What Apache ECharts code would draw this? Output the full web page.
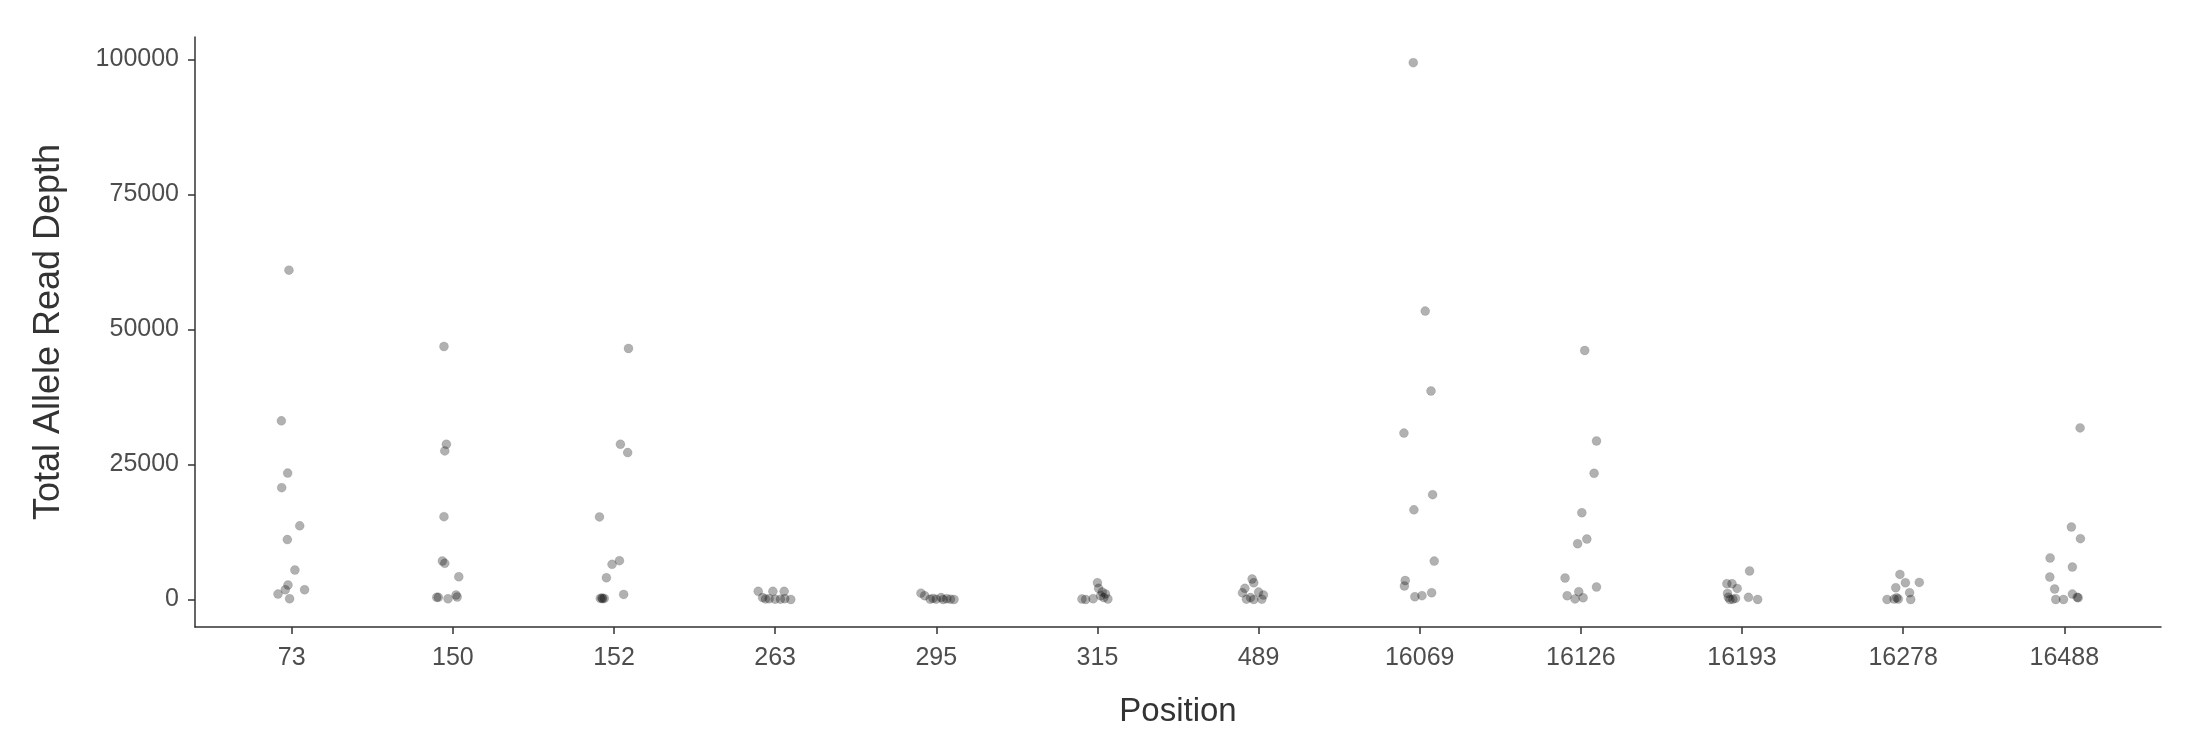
<!DOCTYPE html>
<html>
<head>
<meta charset="utf-8">
<script src="https://cdn.jsdelivr.net/npm/echarts@6/dist/echarts.min.js"></script>
<style>
html,body{margin:0;padding:0;background:#fff;}
#chart{width:2186px;height:749px;}
</style>
</head>
<body>
<div id="chart"></div>
<script>
// Category labels (positions) in display order
const positions = ['73','150','152','263','295','315','489','16069','16126','16193','16278','16488'];
const yTicks = [0, 25000, 50000, 75000, 100000];

// Total allele read depth per position
const depth73    = [60980, 33070, 23400, 20700, 13630, 11080, 5450, 2670, 1800, 1800, 1000, 130];
const depth150   = [46850, 28750, 27510, 15330, 7120, 6690, 4200, 820, 450, 390, 390, 130];
const depth152   = [46480, 28750, 27200, 15280, 7180, 6500, 4030, 940, 200, 200, 150, 250];
const depth263   = [1500, 340, 100, 1500, 50, 50, 1500, 140, 0, 140];
const depth295   = [1170, 690, 50, 50, 340, 0, 50, 0, 200, 140];
const depth315   = [3090, 2060, 1370, 340, 80, 80, 0, 140, 690, 1030];
const depth489   = [3780, 3090, 2060, 1370, 340, 50, 50, 0, 820, 1230];
const depth16069 = [99400, 53400, 38600, 30800, 19400, 16600, 7100, 3500, 2500, 1250, 700, 500];
const depth16126 = [46100, 29350, 23360, 16060, 11190, 10320, 3970, 2300, 690, 1430, 100, 320];
const depth16193 = [5270, 2900, 2900, 2050, 1120, 50, 0, 200, 390, 0, 400];
const depth16278 = [4640, 3100, 3160, 2170, 1250, 80, 80, 0, 0, 300];
const depth16488 = [31770, 13420, 11260, 7680, 6000, 4150, 1930, 1000, 320, 400, 0, 0];

// Horizontal jitter of each point (fraction of a category step)
const jitter73    = [-0.017, -0.064, -0.025, -0.062, 0.05, -0.027, 0.02, -0.023, 0.08, -0.04, -0.085, -0.013];
const jitter150   = [-0.055, -0.04, -0.05, -0.055, -0.065, -0.05, 0.037, 0.02, 0.027, -0.1, -0.09, -0.03];
const jitter152   = [0.09, 0.04, 0.085, -0.09, 0.034, -0.012, -0.047, 0.06, -0.085, -0.06, -0.07, -0.075];
const jitter263   = [-0.105, -0.078, -0.06, -0.014, 0, 0.033, 0.056, 0.06, 0.097, -0.037];
const jitter295   = [-0.095, -0.072, -0.038, 0, 0.03, 0.043, 0.088, 0.11, -0.02, 0.065];
const jitter315   = [0, 0.007, 0.03, 0.04, 0.065, -0.096, -0.073, -0.027, 0.02, 0.05];
const jitter489   = [-0.04, -0.03, -0.085, 0, -0.05, 0.02, -0.075, -0.03, 0.03, -0.1];
const jitter16069 = [-0.04, 0.034, 0.07, -0.098, 0.08, -0.036, 0.09, -0.09, -0.095, 0.074, 0.014, -0.03];
const jitter16126 = [0.024, 0.097, 0.082, 0.006, 0.037, -0.02, -0.098, 0.097, -0.085, -0.013, -0.036, 0.014];
const jitter16193 = [0.047, -0.094, -0.062, -0.03, -0.09, -0.057, -0.075, -0.04, 0.04, 0.097, -0.085];
const jitter16278 = [-0.02, 0.014, 0.1, -0.046, 0.04, -0.056, -0.03, -0.1, 0.047, -0.04];
const jitter16488 = [0.098, 0.044, 0.1, -0.088, 0.05, -0.09, -0.06, 0.05, 0.086, 0.08, -0.053, -0.005];

const depthSets = [depth73, depth150, depth152, depth263, depth295, depth315, depth489,
                   depth16069, depth16126, depth16193, depth16278, depth16488];
const jitterSets = [jitter73, jitter150, jitter152, jitter263, jitter295, jitter315, jitter489,
                    jitter16069, jitter16126, jitter16193, jitter16278, jitter16488];

const points = [];
depthSets.forEach(function (vals, ci) {
  vals.forEach(function (v, k) {
    points.push([ci + 1 + jitterSets[ci][k], v]);
  });
});
const catIndex = positions.map(function (p, i) { return i + 1; });

const FONT = "'Liberation Sans', Arial, sans-serif";
const chart = echarts.init(document.getElementById('chart'), null, {renderer: 'canvas'});
chart.setOption({
  animation: false,
  backgroundColor: '#ffffff',
  grid: {left: 195, right: 25, top: 37, bottom: 122, containLabel: false, outerBoundsMode: 'none'},
  xAxis: {
    type: 'value',
    min: 0.4,
    max: positions.length + 0.6,
    name: 'Position',
    nameLocation: 'middle',
    nameGap: 68,
    nameTextStyle: {fontFamily: FONT, fontSize: 33, color: '#333333'},
    splitLine: {show: false},
    axisLine: {show: true, onZero: false, lineStyle: {color: '#333333', width: 1.5}},
    axisTick: {show: true, length: 7, customValues: catIndex, lineStyle: {color: '#333333', width: 1.5}},
    axisLabel: {
      customValues: catIndex,
      margin: 19,
      fontFamily: FONT, fontSize: 25, color: '#4d4d4d',
      formatter: function (v) { return positions[Math.round(v) - 1]; }
    }
  },
  yAxis: {
    type: 'value',
    min: -5100,
    max: 104150,
    name: 'Total Allele Read Depth',
    nameLocation: 'middle',
    nameGap: 128,
    nameTextStyle: {fontFamily: FONT, fontSize: 36, color: '#333333'},
    splitLine: {show: false},
    axisLine: {show: true, lineStyle: {color: '#333333', width: 1.5}},
    axisTick: {show: true, length: 7, customValues: yTicks, lineStyle: {color: '#333333', width: 1.5}},
    axisLabel: {
      customValues: yTicks,
      margin: 16,
      fontFamily: FONT, fontSize: 25, color: '#4d4d4d',
      formatter: function (v) { return String(v); }
    }
  },
  series: [{
    type: 'scatter',
    data: points,
    symbol: 'circle',
    symbolSize: 9,
    itemStyle: {color: 'rgba(0,0,0,0.38)', borderColor: 'rgba(0,0,0,0.12)', borderWidth: 1},
    emphasis: {disabled: true}
  }]
});
</script>
</body>
</html>
